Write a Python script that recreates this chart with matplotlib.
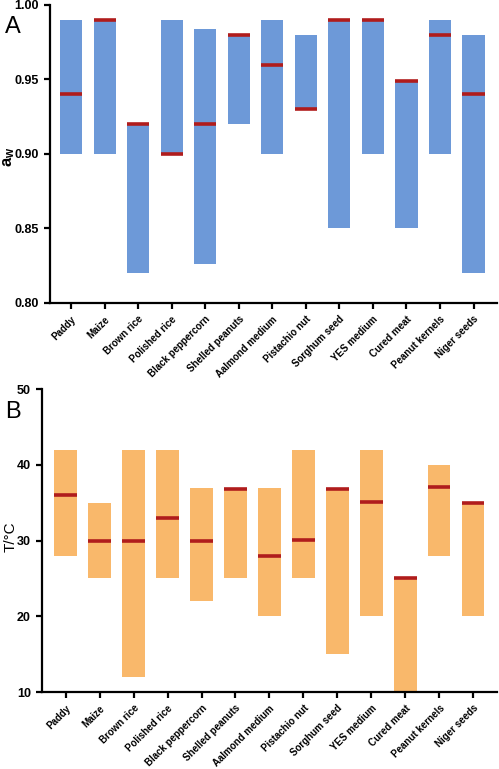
import numpy as np
import matplotlib.pyplot as plt

plt.rcParams['font.family'] = ['Liberation Sans', 'DejaVu Sans']
plt.rcParams['mathtext.fontset'] = 'custom'
plt.rcParams['mathtext.rm'] = 'Liberation Sans'
plt.rcParams['mathtext.bf'] = 'Liberation Sans:bold'
plt.rcParams['mathtext.it'] = 'Liberation Sans:italic'

## Data
foods = ['Paddy', 'Maize', 'Brown rice', 'Polished rice', 'Black peppercorn',
         'Shelled peanuts', 'Aalmond medium', 'Pistachio nut', 'Sorghum seed',
         'YES medium', 'Cured meat', 'Peanut kernels', 'Niger seeds']

# water activity: range and optimum
aw_min = [0.90, 0.90, 0.82, 0.90, 0.826, 0.92, 0.90, 0.93, 0.85, 0.90, 0.85, 0.90, 0.82]
aw_max = [0.99, 0.99, 0.92, 0.99, 0.984, 0.98, 0.99, 0.98, 0.99, 0.99, 0.949, 0.99, 0.98]
aw_opt = [0.94, 0.99, 0.92, 0.90, 0.92, 0.98, 0.96, 0.93, 0.99, 0.99, 0.949, 0.98, 0.94]

# temperature: range and optimum
t_min = [28, 25, 12, 25, 22, 25, 20, 25, 15, 20, 10, 28, 20]
t_max = [42, 35, 42, 42, 37, 37, 37, 42, 37, 42, 25, 40, 35]
t_opt = [36, 30, 30, 33, 30, 36.8, 28, 30.1, 36.8, 35.1, 25, 37.1, 34.9]

blue = '#6d99d8'
orange = '#f9b86b'
red = '#b01c1c'
w = 0.66

fig = plt.figure(figsize=(4.99, 7.69), dpi=100)
axA = fig.add_axes([0.100, 0.606, 0.896, 0.3875])
axB = fig.add_axes([0.084, 0.100, 0.912, 0.394])

def panel(ax, lo, hi, opt, color):
    x = np.arange(len(foods))
    lo = np.array(lo)
    hi = np.array(hi)
    ax.bar(x, hi - lo, bottom=lo, width=w, color=color, zorder=2)
    ax.hlines(opt, x - w / 2, x + w / 2, color=red, linewidth=2.6, zorder=3)
    ax.set_xticks(x)
    ax.set_xticklabels(foods, rotation=45, ha='right', rotation_mode='anchor',
                       fontsize=7, fontweight='bold')
    for s in ['top', 'right']:
        ax.spines[s].set_visible(False)
    for s in ['left', 'bottom']:
        ax.spines[s].set_linewidth(1.6)
    ax.tick_params(axis='both', width=1.6, length=4.5)
    ax.tick_params(axis='y', labelsize=9)

panel(axA, aw_min, aw_max, aw_opt, blue)
axA.set_ylim(0.80, 1.00)
axA.set_xlim(-0.63, 12.7)
axA.set_yticks([0.80, 0.85, 0.90, 0.95, 1.00])
axA.set_yticklabels(['0.80', '0.85', '0.90', '0.95', '1.00'], fontweight='bold')

panel(axB, t_min, t_max, t_opt, orange)
axB.set_ylim(10, 50)
axB.set_xlim(-0.7, 12.7)
axB.set_yticks([10, 20, 30, 40, 50])
axB.set_yticklabels(['10', '20', '30', '40', '50'], fontweight='bold')

# axis titles
fig.text(0.018, 1 - 157 / 769, r'$\mathbf{a_w}$', fontsize=12, rotation=90,
         ha='center', va='center')
fig.text(0.022, 1 - 537 / 769, 'T/°C', fontsize=11, rotation=90,
         ha='center', va='center')

# panel letters
fig.text(0.010, 1 - 33 / 769, 'A', fontsize=17, ha='left', va='baseline')
fig.text(0.010, 1 - 418 / 769, 'B', fontsize=17, ha='left', va='baseline')

plt.savefig('out.png', dpi=100)
